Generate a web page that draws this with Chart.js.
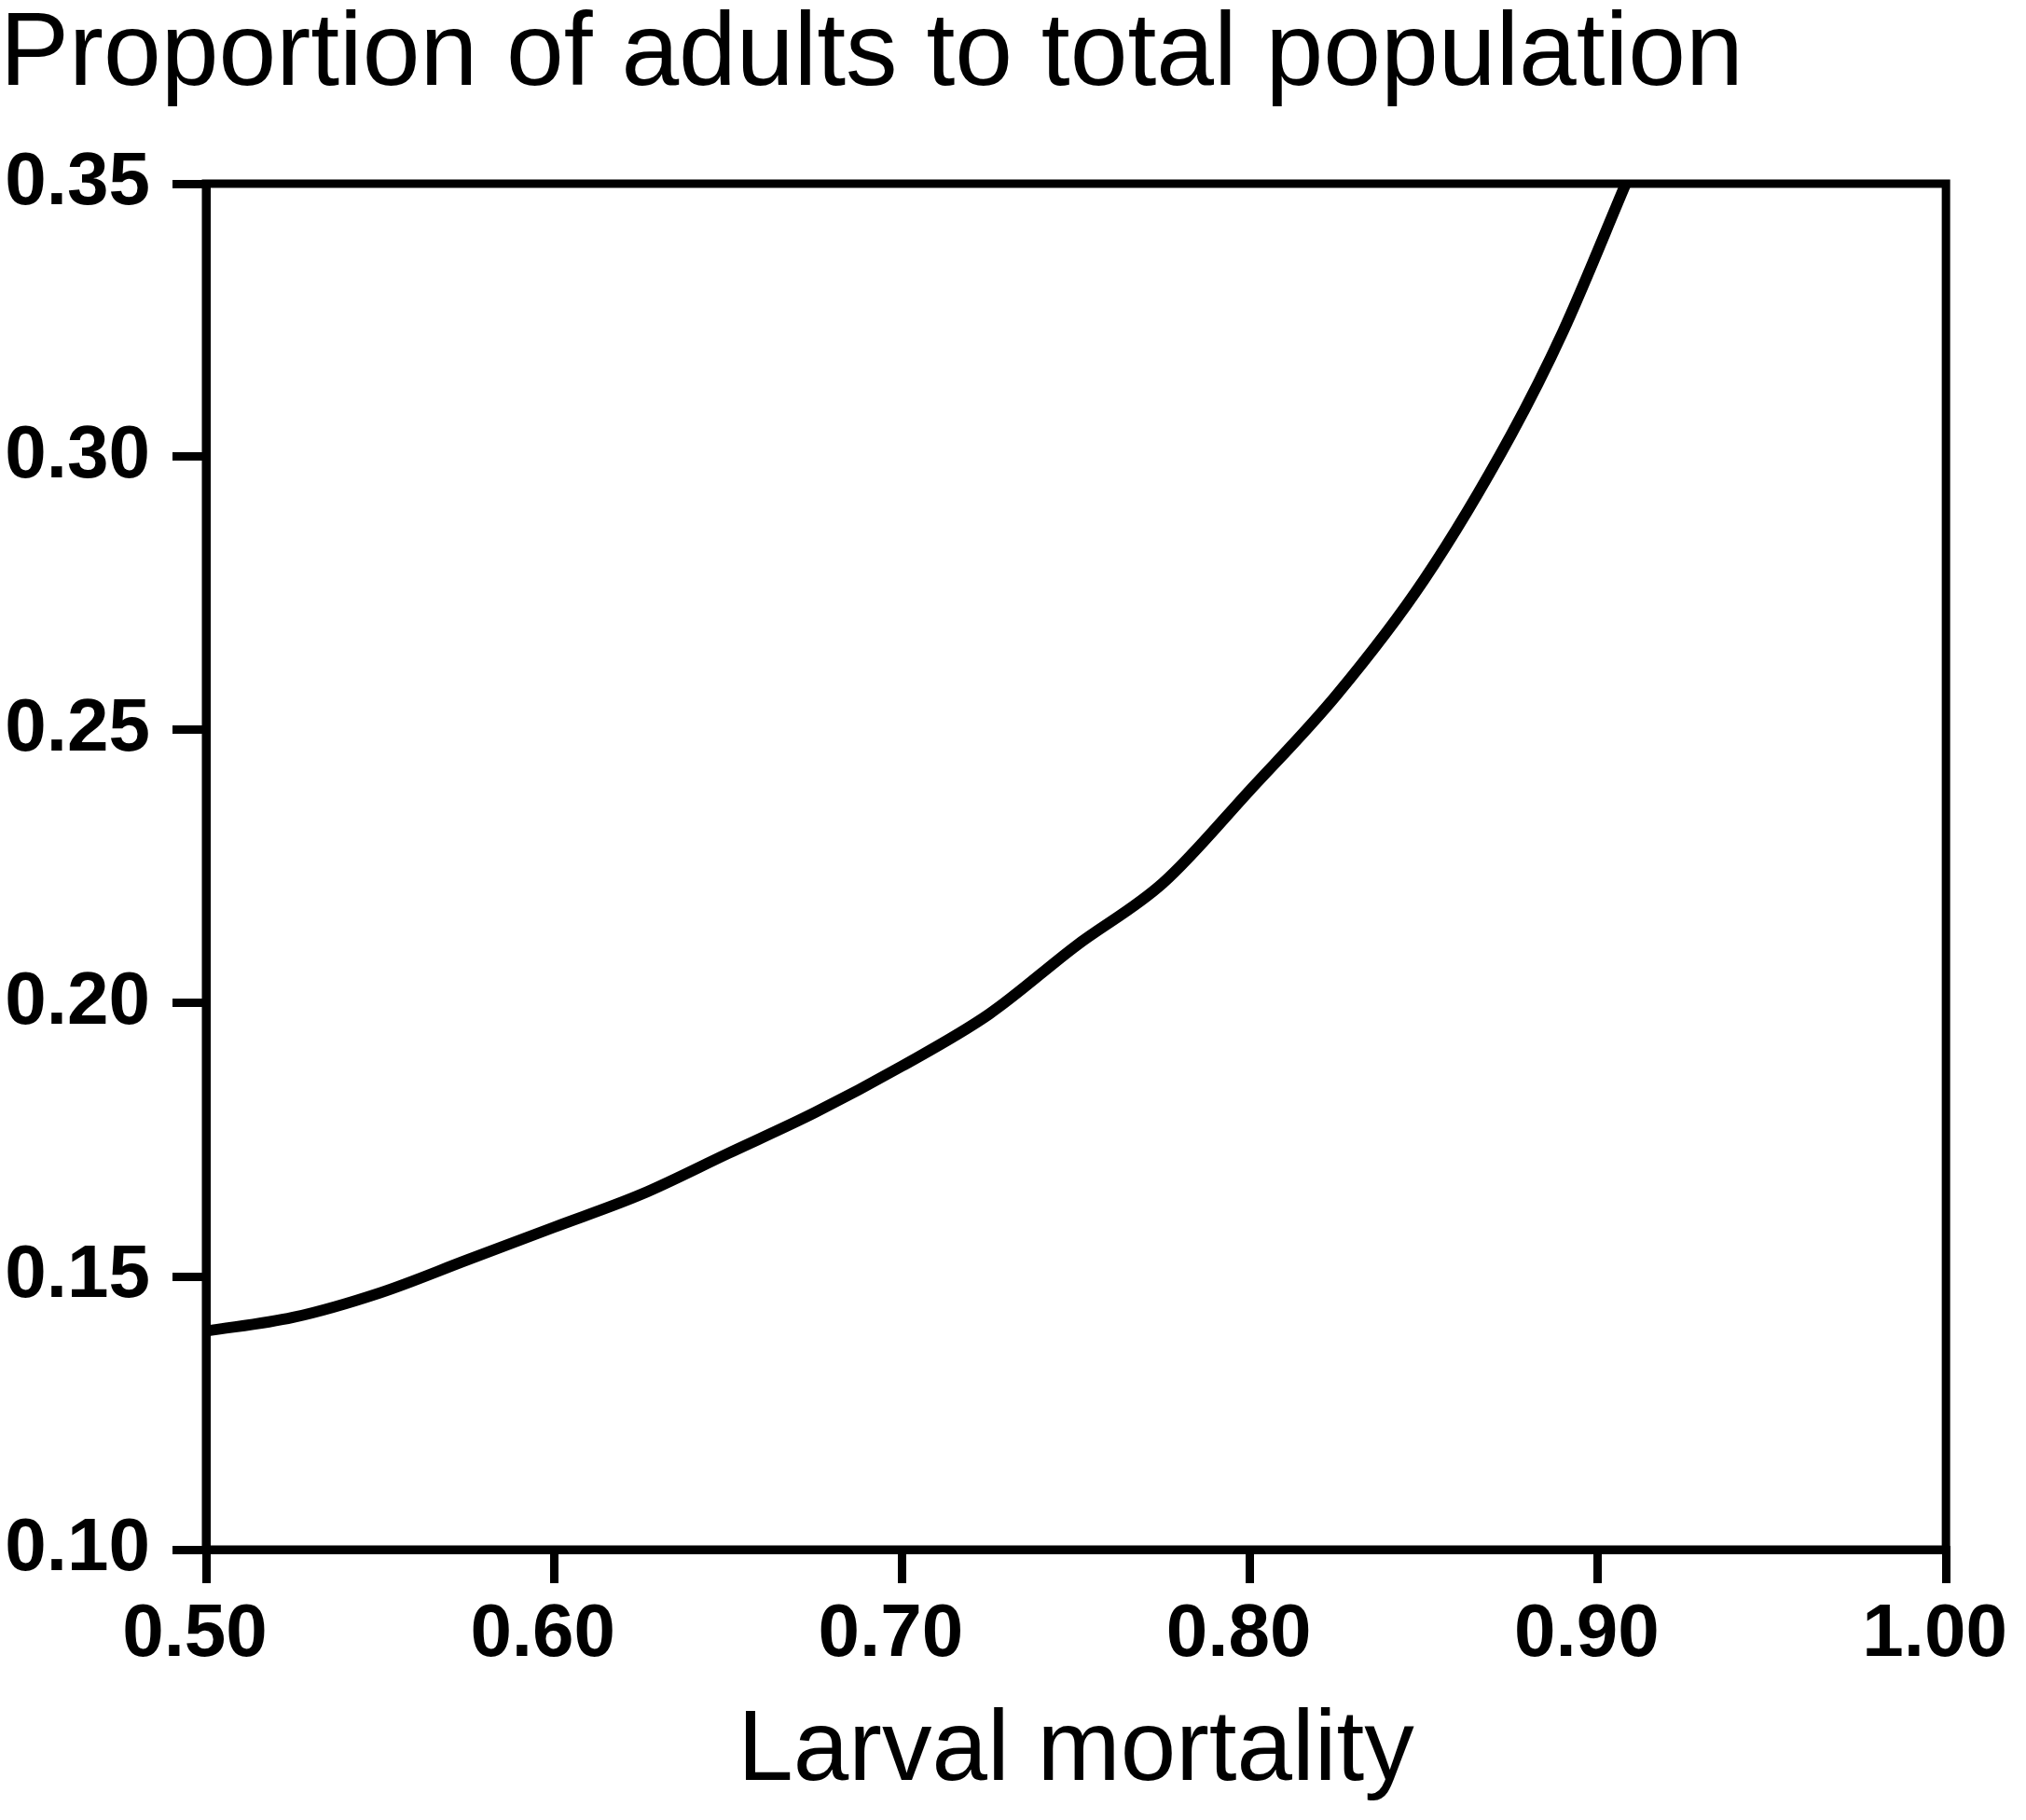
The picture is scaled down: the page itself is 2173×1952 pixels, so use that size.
<!DOCTYPE html>
<html>
<head>
<meta charset="utf-8">
<script src="https://cdn.jsdelivr.net/npm/chart.js@4.4.1/dist/chart.umd.min.js"></script>
<style>
  html, body { margin: 0; padding: 0; background: #fff; }
  canvas { display: block; }
</style>
</head>
<body>
<canvas id="chart" width="2173" height="1952"></canvas>
<script>
// values
const mortality = [0.50, 0.525, 0.55, 0.575, 0.60, 0.625, 0.65, 0.675, 0.70, 0.725, 0.75, 0.775, 0.80, 0.825, 0.85, 0.875, 0.89, 0.908];
const adultShare = [0.140, 0.1425, 0.147, 0.153, 0.159, 0.165, 0.1725, 0.180, 0.1885, 0.198, 0.2105, 0.222, 0.239, 0.2565, 0.2775, 0.304, 0.323, 0.350];

const xTicks = [0.50, 0.60, 0.70, 0.80, 0.90, 1.00];
const yTicks = [0.10, 0.15, 0.20, 0.25, 0.30, 0.35];

const points = mortality.map((m, i) => ({ x: m, y: adultShare[i] }));

// top + right edges of the box
const frame = {
  id: "frame",
  afterDraw(chart) {
    const { ctx, chartArea: a } = chart;
    ctx.save();
    ctx.strokeStyle = "#000";
    ctx.lineWidth = 9;
    ctx.strokeRect(a.left, a.top, a.right - a.left, a.bottom - a.top);
    ctx.restore();
  },
};

const tickFont = { family: "'Liberation Sans', Arial, sans-serif", size: 80, weight: "bold" };

new Chart(document.getElementById("chart").getContext("2d"), {
  type: "line",
  data: {
    datasets: [
      {
        data: points,
        borderColor: "#000",
        borderWidth: 12,
        pointRadius: 0,
        cubicInterpolationMode: "monotone",
        fill: false,
      },
    ],
  },
  options: {
    responsive: false,
    devicePixelRatio: 1,
    animation: false,
    layout: { padding: { top: 0, right: 81, bottom: 0, left: 0 } },
    plugins: {
      legend: { display: false },
      tooltip: { enabled: false },
      title: {
        display: true,
        text: "Proportion of adults to total population",
        align: "start",
        color: "#000",
        font: { family: "'Liberation Sans', Arial, sans-serif", size: 111, weight: "normal", lineHeight: 1 },
        padding: { top: 5, bottom: 81 },
      },
    },
    scales: {
      x: {
        type: "linear",
        min: 0.5,
        max: 1.0,
        afterBuildTicks: (s) => { s.ticks = xTicks.map((v) => ({ value: v })); },
        afterFit: (s) => { s.height = 290; },
        ticks: {
          color: "#000",
          font: tickFont,
          padding: 8,
          labelOffset: -12,
          maxRotation: 0,
          autoSkip: false,
          callback: (v) => v.toFixed(2),
        },
        grid: { drawOnChartArea: false, color: "#000", lineWidth: 9, tickLength: 36 },
        border: { display: true, color: "#000", width: 9 },
        title: {
          display: true,
          text: "Larval mortality",
          color: "#000",
          font: { family: "'Liberation Sans', Arial, sans-serif", size: 107, weight: "normal" },
          padding: { top: 0, bottom: 8 },
        },
      },
      y: {
        type: "linear",
        min: 0.1,
        max: 0.35,
        afterBuildTicks: (s) => { s.ticks = yTicks.map((v) => ({ value: v })); },
        afterFit: (s) => { s.width = 221; },
        ticks: {
          color: "#000",
          font: tickFont,
          padding: 24,
          autoSkip: false,
          callback: (v) => v.toFixed(2),
        },
        grid: { drawOnChartArea: false, color: "#000", lineWidth: 9, tickLength: 36 },
        border: { display: true, color: "#000", width: 9 },
      },
    },
  },
  plugins: [frame],
});
</script>
</body>
</html>
